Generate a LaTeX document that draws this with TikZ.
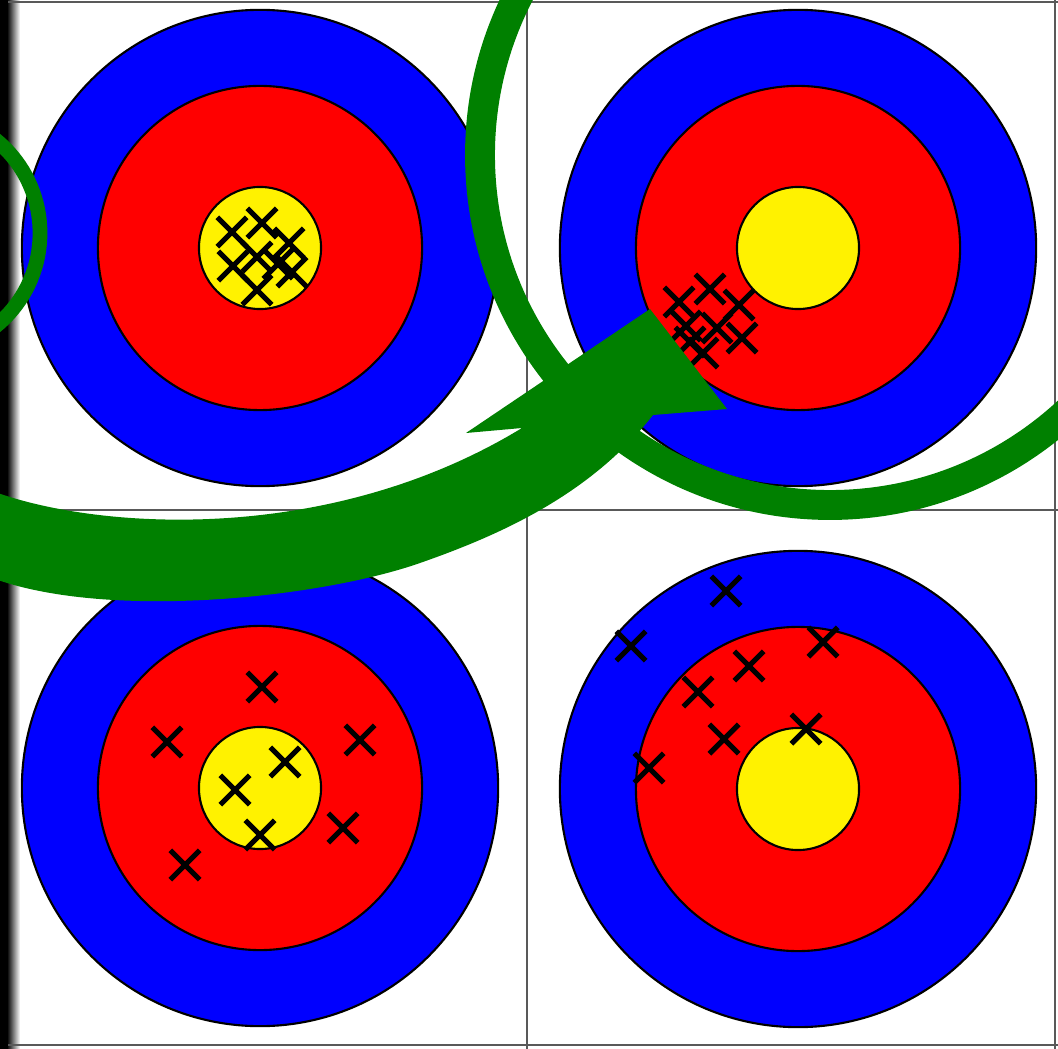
\documentclass[tikz,border=0pt]{standalone}
\usepackage{tikz}
\usetikzlibrary{shapes.misc}
\definecolor{hintgreen}{RGB}{0,128,0}
\tikzset{
  ringout/.style={circle, draw=black, line width=0.6pt, fill=blue, minimum size=4.76cm, inner sep=0pt},
  ringmid/.style={circle, draw=black, line width=0.6pt, fill=red, minimum size=3.24cm, inner sep=0pt},
  ringin/.style={circle, draw=black, line width=0.6pt, fill=yellow, minimum size=1.22cm, inner sep=0pt},
  shot/.style={cross out, draw=black, line width=1.5pt, minimum size=0.24cm, inner sep=0pt},
  gridline/.style={draw=black!65, line width=0.7pt},
  hintring/.style={draw=hintgreen},
  hintarrow/.style={fill=hintgreen}
}

\begin{document}
\begin{tikzpicture}[x=0.01cm, y=-0.01cm]
\clip (0,0) rectangle (1058,1049);
\fill[white] (0,0) rectangle (1058,1049);
\fill[black] (0,0) rectangle (7,1049);
\shade[left color=black, right color=white] (7,0) rectangle (20,1049);
\draw[gridline] (8,2) -- (1058,2);
\draw[gridline] (8,1045) -- (1058,1045);
\draw[gridline] (1055,0) -- (1055,1049);
\draw[gridline] (527,0) -- (527,1049);
\draw[gridline] (8,510) -- (1058,510);

\node[ringout] (tlout) at (260,248) {};
\node[ringmid] (tlmid) at (tlout) {};
\node[ringin] (tlin) at (tlout) {};
\node[ringout] (trout) at (798,248) {};
\node[ringmid] (trmid) at (trout) {};
\node[ringin] (trin) at (trout) {};
\node[ringout] (blout) at (260,788) {};
\node[ringmid] (blmid) at (blout) {};
\node[ringin] (blin) at (blout) {};
\node[ringout] (brout) at (798,789) {};
\node[ringmid] (brmid) at (brout) {};
\node[ringin] (brin) at (brout) {};

\foreach \p [count=\i] in {(232,232),(262,223),(289,243),(233,266),(257,257),(292,272),(257,290),(278,264)}
  \node[shot] (tlshot\i) at \p {};
\foreach \p [count=\i] in {(679,302),(710,289),(739,305),(686,326),(717,328),(742,338),(703,353),(690,342)}
  \node[shot] (trshot\i) at \p {};
\foreach \p [count=\i] in {(262,687),(167,742),(360,740),(285,762),(235,790),(343,828),(260,835),(185,865)}
  \node[shot] (blshot\i) at \p {};
\foreach \p [count=\i] in {(726,591),(631,646),(823,642),(749,666),(698,692),(724,739),(806,729),(649,768)}
  \node[shot] (brshot\i) at \p {};

\draw[hintring, line width=4.2pt] (-80,233) circle (120);
\draw[hintring, line width=8.5pt] (830,155) circle (350);

\fill[hintarrow] (-5,492) .. controls (100,530) and (330,545) .. (522,428)
  -- (466,433) -- (650,309) -- (727,409) -- (653,415)
  .. controls (590,495) and (500,535) .. (420,563)
  .. controls (320,598) and (110,620) .. (-5,579) -- cycle;
\end{tikzpicture}
\end{document}
